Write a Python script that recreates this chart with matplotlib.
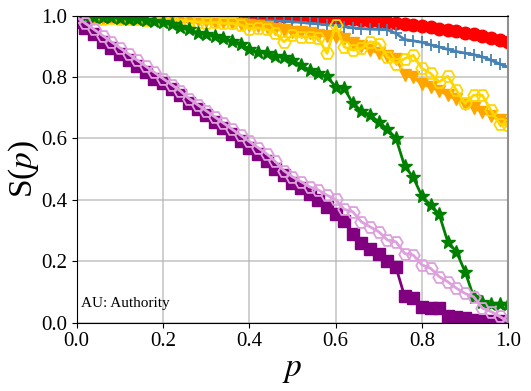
import numpy as np
import matplotlib
matplotlib.use("Agg")
import matplotlib.pyplot as plt

plt.rcParams['font.family'] = ['Liberation Serif', 'DejaVu Serif']
plt.rcParams['mathtext.fontset'] = 'stix'

# fraction of removed nodes
p = np.round(np.arange(0, 1.0001, 0.02), 2)

s_red = [1.0, 1.0, 1.0, 1.0, 1.0, 1.0, 1.0, 1.0, 1.0, 1.0,
         1.0, 1.0, 1.0, 1.0, 1.0, 1.0, 1.0, 1.0, 1.0, 1.0,
         1.0, 1.0, 1.0, 1.0, 0.999, 0.999, 0.998, 0.997, 0.996, 0.995,
         0.993, 0.99, 0.988, 0.985, 0.983, 0.982, 0.978, 0.975, 0.972, 0.97,
         0.966, 0.963, 0.958, 0.953, 0.95, 0.945, 0.94, 0.933, 0.928, 0.92,
         0.915]

s_blue = [1.0, 1.0, 1.0, 1.0, 1.0, 1.0, 0.999, 0.999, 0.999, 0.998,
          0.998, 0.998, 0.997, 0.997, 0.996, 0.996, 0.995, 0.993, 0.99, 0.987,
          0.985, 0.985, 0.984, 0.983, 0.982, 0.98, 0.978, 0.975, 0.973, 0.97,
          0.968, 0.964, 0.96, 0.958, 0.956, 0.955, 0.954, 0.942, 0.922, 0.918,
          0.913, 0.905, 0.898, 0.89, 0.883, 0.878, 0.873, 0.866, 0.855, 0.843,
          0.832]

s_orange = [0.997, 0.997, 0.996, 0.996, 0.995, 0.995, 0.994, 0.993, 0.992, 0.991,
            0.99, 0.989, 0.988, 0.987, 0.985, 0.982, 0.98, 0.978, 0.976, 0.974,
            0.97, 0.966, 0.962, 0.958, 0.953, 0.948, 0.946, 0.942, 0.937, 0.934,
            0.93, 0.924, 0.91, 0.9, 0.889, 0.878, 0.869, 0.86, 0.806, 0.799,
            0.778, 0.767, 0.755, 0.741, 0.727, 0.712, 0.70, 0.687, 0.673, 0.66,
            0.651]

s_gold = [1.0, 0.995, 0.99, 0.99, 0.993, 0.99, 0.99, 0.988, 0.985, 0.99,
          0.988, 0.985, 0.985, 0.982, 0.98, 0.975, 0.978, 0.975, 0.975, 0.97,
          0.958, 0.96, 0.955, 0.945, 0.915, 0.936, 0.931, 0.931, 0.926, 0.877,
          0.969, 0.898, 0.888, 0.893, 0.915, 0.909, 0.866, 0.844, 0.86, 0.871,
          0.828, 0.812, 0.784, 0.803, 0.757, 0.714, 0.741, 0.741, 0.692, 0.647,
          0.643]

s_green = [1.0, 0.998, 0.997, 0.995, 0.995, 0.993, 0.99, 0.99, 0.985, 0.982,
           0.978, 0.972, 0.963, 0.955, 0.945, 0.94, 0.935, 0.926, 0.918, 0.909,
           0.89, 0.882, 0.877, 0.868, 0.864, 0.855, 0.839, 0.822, 0.812, 0.803,
           0.768, 0.763, 0.714, 0.69, 0.676, 0.654, 0.63, 0.60, 0.51, 0.473,
           0.412, 0.383, 0.353, 0.263, 0.231, 0.166, 0.084, 0.068, 0.062, 0.06,
           0.06]

s_purple = [0.98, 0.96, 0.94, 0.915, 0.895, 0.875, 0.855, 0.835, 0.815, 0.795,
            0.78, 0.76, 0.74, 0.715, 0.695, 0.675, 0.655, 0.635, 0.615, 0.59,
            0.57, 0.55, 0.525, 0.50, 0.48, 0.455, 0.44, 0.42, 0.40, 0.375,
            0.355, 0.33, 0.29, 0.26, 0.24, 0.225, 0.20, 0.18, 0.085, 0.08,
            0.05, 0.047, 0.047, 0.02, 0.018, 0.015, 0.01, 0.006, 0.005, 0.004,
            0.003]

s_plum = [0.995, 0.975, 0.955, 0.935, 0.915, 0.895, 0.875, 0.855, 0.835, 0.815,
          0.795, 0.775, 0.755, 0.73, 0.71, 0.69, 0.67, 0.65, 0.63, 0.61,
          0.59, 0.57, 0.55, 0.525, 0.495, 0.475, 0.459, 0.442, 0.432, 0.415,
          0.401, 0.369, 0.361, 0.328, 0.312, 0.296, 0.269, 0.263, 0.225, 0.22,
          0.188, 0.177, 0.15, 0.133, 0.112, 0.095, 0.084, 0.047, 0.036, 0.02,
          0.003]

fig = plt.figure(figsize=(5.31, 3.91), dpi=100)
ax = fig.add_axes([0.1445, 0.175, 0.8125, 0.785])

ax.plot(p, s_red, color='red', marker='o', ms=9, lw=2)
ax.plot(p, s_blue, color='steelblue', marker='+', ms=9, mew=1.3, lw=2)
ax.plot(p, s_orange, color='orange', marker='v', ms=9, lw=2)
ax.plot(p, s_gold, color='gold', marker='H', ms=9, mfc='none', mew=1.3, lw=2)
ax.plot(p, s_green, color='green', marker='*', ms=10, lw=2)
ax.plot(p, s_purple, color='purple', marker='s', ms=8, lw=2)
ax.plot(p, s_plum, color='plum', marker='H', ms=9, mfc='none', mew=1.3, lw=2)

ax.set_xlim(0, 1)
ax.set_ylim(0, 1)
ax.set_xticks([0, 0.2, 0.4, 0.6, 0.8, 1.0])
ax.set_yticks([0, 0.2, 0.4, 0.6, 0.8, 1.0])
ax.tick_params(labelsize=15)
ax.grid(True, color='#b0b0b0', lw=1.2, alpha=0.7)
ax.set_axisbelow(True)
ax.spines['right'].set_color('#909090')
ax.spines['right'].set_linewidth(1.5)

ax.set_xlabel('$p$', fontsize=24, labelpad=2)
ax.set_ylabel('S($p$)', fontsize=24, labelpad=0)
ax.text(0.01, 0.05, 'AU: Authority', transform=ax.transAxes, fontsize=11)

fig.savefig('out.png', dpi=100)
